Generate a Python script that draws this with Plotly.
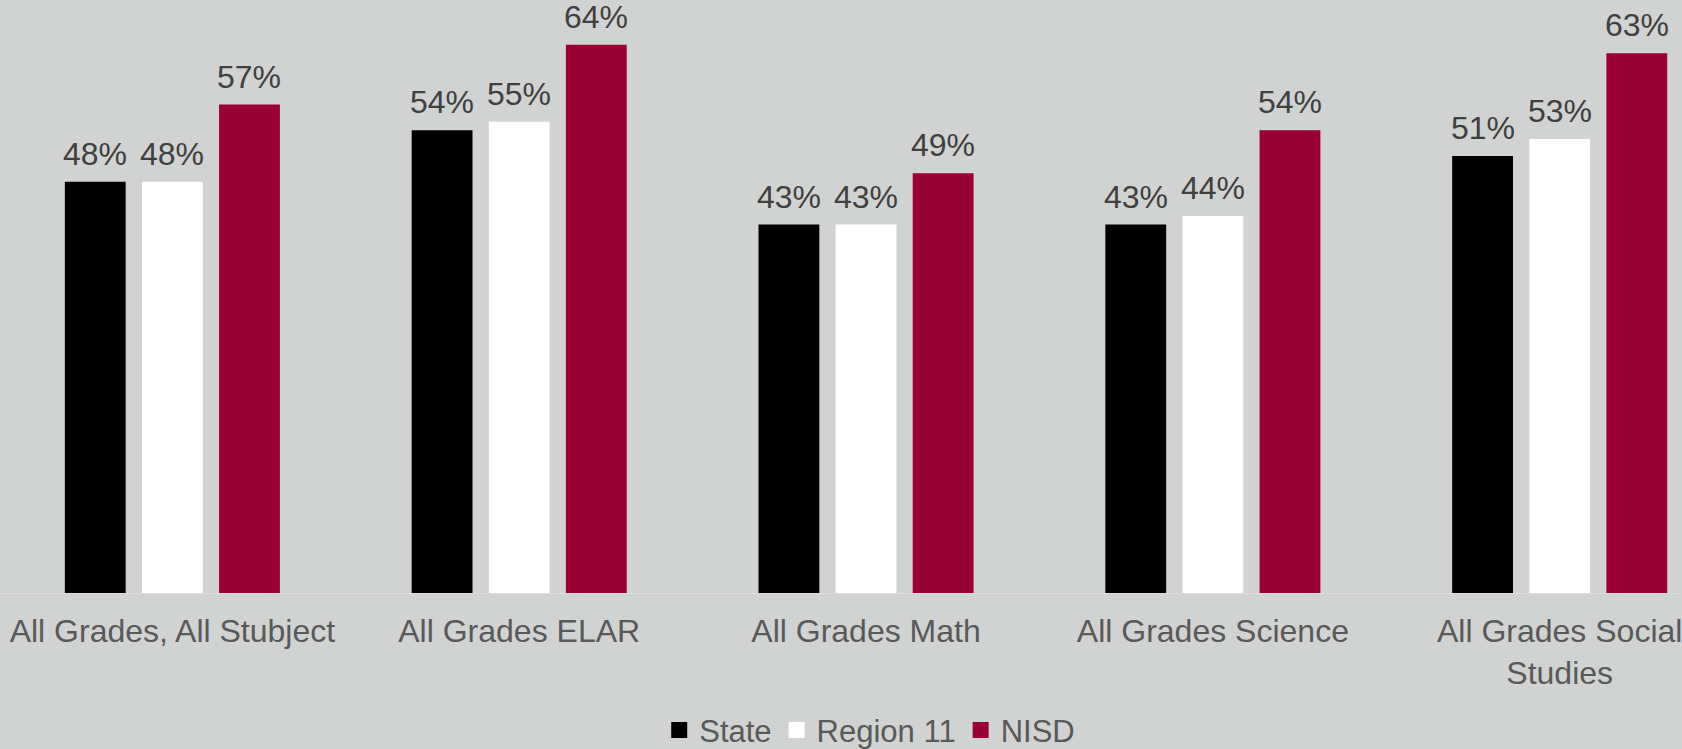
import plotly.graph_objects as go

categories = ["All Grades, All Stubject", "All Grades ELAR", "All Grades Math",
              "All Grades Science", "All Grades Social Studies"]
tick_labels = ["All Grades, All Stubject", "All Grades ELAR", "All Grades Math",
               "All Grades Science", "All Grades Social<br>Studies"]
series_names = ["State", "Region 11", "NISD"]
state = [48, 54, 43, 43, 51]
region11 = [48, 55, 43, 44, 53]
nisd = [57, 64, 49, 54, 63]
values = [state, region11, nisd]
colors = ["#000000", "#FFFFFF", "#990033"]

BG = "#D1D3D2"
FONT = "Arial, Liberation Sans, sans-serif"
BARGAP = 0.333
BARGROUPGAP = 0.211

fig = go.Figure()
for name, vals, col in zip(series_names, values, colors):
    fig.add_trace(go.Bar(x=categories, y=vals, name=name, marker=dict(color=col, line=dict(width=0)),
                         showlegend=False))
# legend-only entries with larger square swatches
for name, col in zip(series_names, colors):
    fig.add_trace(go.Scatter(x=[None], y=[None], mode="markers", name=name,
                             marker=dict(symbol="square", size=17, color=col, line=dict(width=0))))

# data labels placed above each bar
slot = (1 - BARGAP) / len(series_names)
annotations = []
for i, vals in enumerate(values):
    off = (i - (len(series_names) - 1) / 2) * slot
    for j, v in enumerate(vals):
        annotations.append(dict(x=j + off, y=v, xref="x", yref="y", text=f"{v}%",
                                showarrow=False, yanchor="bottom", yshift=8,
                                font=dict(family=FONT, size=32, color="#404040")))

fig.update_layout(
    width=1682, height=749,
    margin=dict(l=0, r=0, t=0, b=156),
    paper_bgcolor=BG, plot_bgcolor=BG,
    barmode="group", bargap=BARGAP, bargroupgap=BARGROUPGAP,
    font=dict(family=FONT, color="#595959"),
    annotations=annotations,
    legend=dict(orientation="h", x=0.518, xanchor="center", y=0.025, yanchor="middle",
                yref="container", font=dict(family=FONT, size=31, color="#595959"),
                bgcolor="rgba(0,0,0,0)", itemwidth=30, traceorder="normal"),
    xaxis=dict(type="category", range=[-0.497, 4.344], tickvals=categories, ticktext=tick_labels,
               tickfont=dict(family=FONT, size=32, color="#595959"), ticklabelstandoff=10,
               showline=True, linecolor="#DCDDDC", linewidth=1, showgrid=False, ticks="",
               zeroline=False),
    yaxis=dict(range=[0, 69.21], visible=False, showgrid=False, zeroline=False),
)

fig.write_html("out.html", config={"displayModeBar": False},
               post_script="document.body.style.margin='0';document.body.style.overflow='hidden';"
                           "document.body.style.background='" + BG + "';")
